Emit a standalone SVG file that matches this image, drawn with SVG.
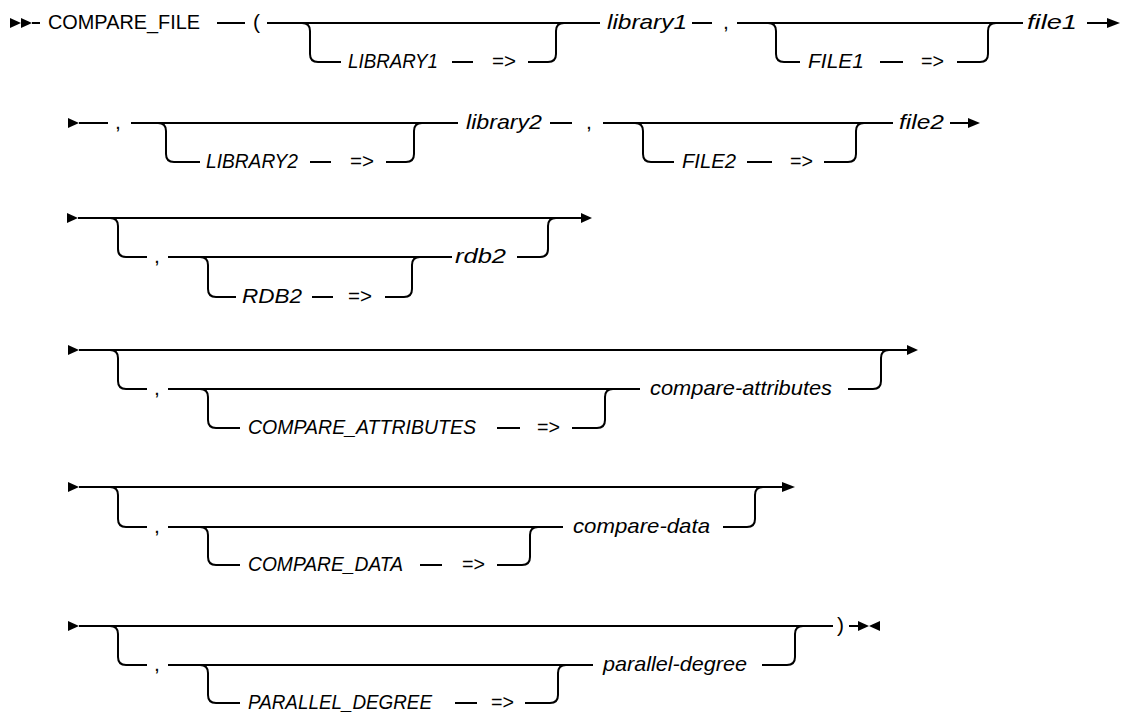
<svg xmlns="http://www.w3.org/2000/svg" width="1122" height="719" viewBox="0 0 1122 719">
<defs>
<style>
.ln{fill:none;stroke:#000;stroke-width:2}
.ah{fill:#000;stroke:none}
.t{font-family:"Liberation Sans",Arial,sans-serif;font-size:21px;fill:#000}
.i{font-style:italic}
</style>
</defs>
<rect width="1122" height="719" fill="#fff"/>
<g id="connectors">
<!-- row 1 y=23 yb=62 -->
<polygon class="ah" points="10,18 21,23 10,28"/>
<polygon class="ah" points="21,18 32,23 21,28"/>
<path class="ln" d="M32,23 H40 M217,23 H245 M267,23 H600 M692,23 H712 M737,23 H1023 M1087,23 H1108"/>
<polygon class="ah" points="1107,18 1120,23 1107,28"/>
<path class="ln" d="M302,23 Q310,23 310,31 V54 Q310,62 318,62 H341 M452,62 H473 M528,62 H548 Q556,62 556,54 V31 Q556,23 564,23"/>
<path class="ln" d="M768,23 Q776,23 776,31 V54 Q776,62 784,62 H800 M880,62 H903 M957,62 H980 Q988,62 988,54 V31 Q988,23 996,23"/>
<!-- row 2 y=123 yb=162 -->
<polygon class="ah" points="68,118 79,123 68,128"/>
<path class="ln" d="M79,123 H108 M131,123 H458 M550,123 H572 M603,123 H893 M950,123 H969"/>
<polygon class="ah" points="968,118 980,123 968,128"/>
<path class="ln" d="M158,123 Q166,123 166,131 V154 Q166,162 174,162 H200 M310,162 H331 M386,162 H406 Q414,162 414,154 V131 Q414,123 422,123"/>
<path class="ln" d="M635,123 Q643,123 643,131 V154 Q643,162 651,162 H674 M747,162 H772 M824,162 H848 Q856,162 856,154 V131 Q856,123 864,123"/>
<!-- row 3 y=218 yb=257 ys=297 -->
<polygon class="ah" points="67,213 78,218 67,223"/>
<path class="ln" d="M78,218 H582"/>
<polygon class="ah" points="581,213 592,218 581,223"/>
<path class="ln" d="M110,218 Q118,218 118,226 V249 Q118,257 126,257 H147 M168,257 H452 M517,257 H540 Q548,257 548,249 V226 Q548,218 556,218"/>
<path class="ln" d="M200,257 Q208,257 208,265 V289 Q208,297 216,297 H236 M312,297 H333 M385,297 H404 Q412,297 412,289 V265 Q412,257 420,257"/>
<!-- row 4 y=350 yb=389 ys=428 -->
<polygon class="ah" points="68,345 79,350 68,355"/>
<path class="ln" d="M79,350 H908"/>
<polygon class="ah" points="907,345 918,350 907,355"/>
<path class="ln" d="M110,350 Q118,350 118,358 V381 Q118,389 126,389 H147 M168,389 H640 M848,389 H873 Q881,389 881,381 V358 Q881,350 889,350"/>
<path class="ln" d="M200,389 Q208,389 208,397 V420 Q208,428 216,428 H240 M497,428 H520 M572,428 H597 Q605,428 605,420 V397 Q605,389 613,389"/>
<!-- row 5 y=487 yb=527 ys=565 -->
<polygon class="ah" points="68,482 79,487 68,492"/>
<path class="ln" d="M79,487 H783"/>
<polygon class="ah" points="782,482 795,487 782,492"/>
<path class="ln" d="M110,487 Q118,487 118,495 V519 Q118,527 126,527 H147 M168,527 H563 M723,527 H747 Q755,527 755,519 V495 Q755,487 763,487"/>
<path class="ln" d="M200,527 Q208,527 208,535 V557 Q208,565 216,565 H240 M420,565 H442 M497,565 H522 Q530,565 530,557 V535 Q530,527 538,527"/>
<!-- row 6 y=626 yb=665 ys=703 -->
<polygon class="ah" points="68,621 79,626 68,631"/>
<path class="ln" d="M79,626 H833 M849,626 H858"/>
<polygon class="ah" points="858,621 869,626 858,631"/>
<polygon class="ah" points="880,621 869,626 880,631"/>
<path class="ln" d="M110,626 Q118,626 118,634 V657 Q118,665 126,665 H147 M168,665 H593 M762,665 H787 Q795,665 795,657 V634 Q795,626 803,626"/>
<path class="ln" d="M200,665 Q208,665 208,673 V695 Q208,703 216,703 H240 M455,703 H477 M525,703 H550 Q558,703 558,695 V673 Q558,665 566,665"/>
</g>
<g id="row1">
<g id="n-compare-file"><text class="t" x="48" y="29" textLength="152" lengthAdjust="spacingAndGlyphs">COMPARE_FILE</text></g>
<g id="n-lparen"><text class="t" x="253" y="29">(</text></g>
<g id="n-LIBRARY1"><text class="t i" x="348" y="68" textLength="90" lengthAdjust="spacingAndGlyphs">LIBRARY1</text></g>
<g id="n-arrow1"><text class="t" x="492" y="68" textLength="24" lengthAdjust="spacingAndGlyphs">=&gt;</text></g>
<g id="n-library1"><text class="t i" x="607" y="29" textLength="80" lengthAdjust="spacingAndGlyphs">library1</text></g>
<g id="n-comma1"><text class="t" x="723" y="29">,</text></g>
<g id="n-FILE1"><text class="t i" x="808" y="68" textLength="56" lengthAdjust="spacingAndGlyphs">FILE1</text></g>
<g id="n-arrow2"><text class="t" x="921" y="68" textLength="23" lengthAdjust="spacingAndGlyphs">=&gt;</text></g>
<g id="n-file1"><text class="t i" x="1027" y="29" textLength="50" lengthAdjust="spacingAndGlyphs">file1</text></g>
</g>
<g id="row2">
<g id="n-comma2"><text class="t" x="115" y="129">,</text></g>
<g id="n-LIBRARY2"><text class="t i" x="206" y="168" textLength="92" lengthAdjust="spacingAndGlyphs">LIBRARY2</text></g>
<g id="n-arrow3"><text class="t" x="350" y="168" textLength="24" lengthAdjust="spacingAndGlyphs">=&gt;</text></g>
<g id="n-library2"><text class="t i" x="466" y="129" textLength="76" lengthAdjust="spacingAndGlyphs">library2</text></g>
<g id="n-comma3"><text class="t" x="586" y="129">,</text></g>
<g id="n-FILE2"><text class="t i" x="682" y="168" textLength="54" lengthAdjust="spacingAndGlyphs">FILE2</text></g>
<g id="n-arrow4"><text class="t" x="790" y="168" textLength="23" lengthAdjust="spacingAndGlyphs">=&gt;</text></g>
<g id="n-file2"><text class="t i" x="899" y="129" textLength="45" lengthAdjust="spacingAndGlyphs">file2</text></g>
</g>
<g id="row3">
<g id="n-comma4"><text class="t" x="154" y="263">,</text></g>
<g id="n-RDB2"><text class="t i" x="242" y="303" textLength="60" lengthAdjust="spacingAndGlyphs">RDB2</text></g>
<g id="n-arrow5"><text class="t" x="348" y="303" textLength="24" lengthAdjust="spacingAndGlyphs">=&gt;</text></g>
<g id="n-rdb2"><text class="t i" x="455" y="263" textLength="51" lengthAdjust="spacingAndGlyphs">rdb2</text></g>
</g>
<g id="row4">
<g id="n-comma5"><text class="t" x="154" y="395">,</text></g>
<g id="n-COMPARE_ATTRIBUTES"><text class="t i" x="248" y="434" textLength="228" lengthAdjust="spacingAndGlyphs">COMPARE_ATTRIBUTES</text></g>
<g id="n-arrow6"><text class="t" x="537" y="434" textLength="23" lengthAdjust="spacingAndGlyphs">=&gt;</text></g>
<g id="n-compare-attributes"><text class="t i" x="650" y="395" textLength="182" lengthAdjust="spacingAndGlyphs">compare-attributes</text></g>
</g>
<g id="row5">
<g id="n-comma6"><text class="t" x="154" y="533">,</text></g>
<g id="n-COMPARE_DATA"><text class="t i" x="248" y="571" textLength="155" lengthAdjust="spacingAndGlyphs">COMPARE_DATA</text></g>
<g id="n-arrow7"><text class="t" x="462" y="571" textLength="23" lengthAdjust="spacingAndGlyphs">=&gt;</text></g>
<g id="n-compare-data"><text class="t i" x="573" y="533" textLength="137" lengthAdjust="spacingAndGlyphs">compare-data</text></g>
</g>
<g id="row6">
<g id="n-comma7"><text class="t" x="154" y="671">,</text></g>
<g id="n-PARALLEL_DEGREE"><text class="t i" x="248" y="709" textLength="184" lengthAdjust="spacingAndGlyphs">PARALLEL_DEGREE</text></g>
<g id="n-arrow8"><text class="t" x="491" y="709" textLength="23" lengthAdjust="spacingAndGlyphs">=&gt;</text></g>
<g id="n-parallel-degree"><text class="t i" x="603" y="671" textLength="144" lengthAdjust="spacingAndGlyphs">parallel-degree</text></g>
<g id="n-rparen"><text class="t" x="837" y="632">)</text></g>
</g>
</svg>
